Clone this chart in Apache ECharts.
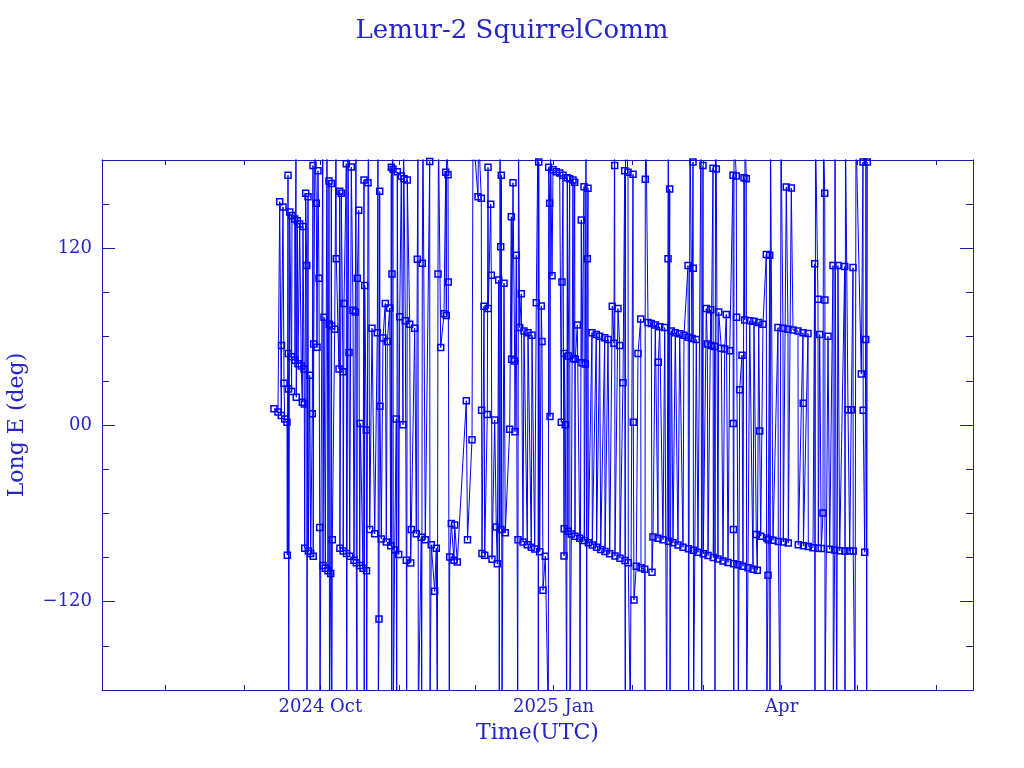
<!DOCTYPE html>
<html><head><meta charset="utf-8">
<script src="https://cdn.jsdelivr.net/npm/echarts@6/dist/echarts.min.js"></script>
<style>html,body{margin:0;padding:0;background:#fff}#c{width:1024px;height:768px}</style>
</head><body><div id="c"></div>
<script>
// days since 2024-08-01 00:00 UTC
const day = [42.72,44.30,44.97,45.60,45.68,46.27,46.67,46.95,47.85,47.97,48.25,48.33,48.45,48.52,48.92,49.55,49.67,49.82,50.89,51.01,51.40,51.52,51.92,52.19,52.86,53.49,53.89,54.16,54.56,54.68,54.84,55.23,55.62,55.74,56.14,56.26,56.81,57.20,57.83,58.11,58.19,58.39,58.90,59.41,59.69,60.08,60.48,60.75,60.87,61.97,62.05,62.45,62.96,63.63,64.03,64.42,64.50,64.62,65.09,65.33,65.45,65.49,65.72,66.67,67.18,67.30,68.37,68.64,68.72,69.27,69.94,70.02,70.34,71.25,71.33,71.40,71.92,72.31,72.59,73.22,73.89,74.28,74.80,75.07,75.19,75.47,75.59,76.14,76.53,76.77,77.84,78.23,78.31,78.51,79.14,79.22,79.29,79.81,80.00,80.48,81.39,82.45,83.48,83.75,83.87,84.15,84.42,84.54,85.05,85.72,86.63,87.03,87.42,88.37,88.76,89.00,89.16,89.27,89.47,89.67,89.79,90.34,90.97,91.13,91.37,91.92,92.31,92.94,93.61,93.81,94.01,94.52,94.92,95.07,95.31,96.26,96.65,96.89,98.23,98.86,99.26,99.53,99.65,100.83,100.99,101.23,101.50,102.41,104.15,104.27,104.78,106.12,106.75,107.15,107.42,107.62,108.49,109.79,110.46,110.70,110.78,111.37,111.48,111.88,112.04,112.67,113.73,114.01,115.04,118.59,119.06,120.84,121.23,123.20,123.40,124.50,124.62,124.78,125.57,125.85,126.87,127.15,127.27,128.21,128.45,128.73,129.79,130.42,130.82,131.37,131.60,131.88,132.16,132.28,132.39,132.67,133.46,133.97,135.71,136.34,136.46,137.01,137.68,137.80,138.31,138.86,138.98,139.18,139.65,140.28,140.96,141.35,142.65,142.93,144.23,144.50,145.57,146.20,146.87,146.99,147.15,147.54,148.17,148.45,148.84,149.75,150.94,151.09,151.49,151.61,151.80,152.40,152.79,154.09,155.43,156.06,156.34,156.73,157.13,157.21,157.29,157.64,158.19,158.43,158.71,158.79,159.38,159.50,160.01,160.68,160.80,161.35,161.47,161.59,162.38,163.32,163.44,163.95,164.23,165.02,165.14,165.53,165.81,166.08,166.32,166.60,166.71,168.17,168.29,169.87,169.99,171.21,171.61,173.19,173.31,174.49,175.16,176.18,176.85,177.05,177.13,177.24,178.43,179.10,179.22,180.40,181.08,181.19,181.31,181.39,182.38,182.50,183.28,184.35,184.47,184.74,185.65,186.32,187.39,187.50,188.97,189.08,189.20,189.48,190.27,191.57,191.85,192.24,193.15,194.21,194.33,194.88,196.18,196.86,197.64,198.16,198.28,198.39,198.83,198.95,199.46,200.13,201.04,202.10,202.77,204.07,204.47,206.05,206.13,206.21,206.29,206.84,207.63,208.02,208.10,208.18,208.26,209.32,209.99,211.18,211.45,211.96,212.08,213.27,213.66,213.94,215.00,215.24,215.91,216.03,216.58,216.70,216.90,217.21,217.88,218.16,219.19,219.86,220.53,221.16,221.83,222.50,223.80,223.88,223.96,224.04,224.12,224.20,225.10,225.22,225.77,225.89,226.44,227.35,227.74,228.14,228.42,228.53,229.05,229.20,229.72,230.39,231.70,232.08,232.99,233.39,233.94,234.33,234.73,235.63,236.94,237.05,237.17,237.61,237.73,238.28,238.40,238.59,239.58,241.55,241.67,242.34,242.74,243.52,243.64,244.83,245.50,245.61,246.80,247.47,249.44,249.56,251.41,251.49,251.57,253.39,253.51,255.36,256.03,256.15,256.35,257.33,257.45,258.00,258.63,259.30,259.50,259.98,260.06,260.09,261.28,261.95,263.25,263.37,263.92,264.04,264.71,265.22,265.89,267.87,267.95,267.98,268.18,269.17,269.84,270.47,271.14,271.22,271.93,272.32,274.42,275.08,275.16,275.76,276.15,276.27,276.55,276.78];
// East longitude (deg); +/-200 = track leaving the frame
const lon = [11.1,8.8,151.7,6.5,54,148.1,28.3,4.1,1.8,-88.4,169.7,48.6,24.5,-200,144.6,46.3,22.8,142.3,140,44,200,18.9,138.8,41.6,136.5,40,15.4,134.8,38,14.2,-83.7,157.5,108.3,-200,155.1,-85.6,33.8,-87.2,7.6,176.3,-89.1,55,200,150.6,52.8,172.7,99.6,-69.7,-200,200,-95.4,73.2,-97.3,200,-99,165.7,68.5,-200,-100.8,164.1,67.3,-200,-77.9,65,200,113,38,158.7,-83.7,157.5,36.2,-85.6,82.6,177.5,-87.2,-200,200,49.3,-89.1,175.2,77.9,-91.9,76.7,200,-93.6,-200,99.6,145.8,-95.4,1.1,-97.3,166.5,-200,94.8,-3.4,-99,-200,164.6,200,-70.9,65.7,-73.9,62.6,200,-200,-131.8,158.7,12.8,-77.4,59.1,82.6,-79.5,56.8,79.5,-82.1,175,-200,102.6,200,173.8,-200,-84.9,4.1,-200,172,-88,73.6,169.2,0.1,200,167.3,70.8,-91.9,-200,166.4,68.5,-93.7,-70.9,65.7,-73.9,112.6,200,-200,-76.2,-200,109.8,200,-77.9,179,-200,-81.4,-113,-83.7,-200,102.6,200,52.6,75.5,171.6,74.4,200,170,97.1,-200,-89.6,-66.9,-91.9,-68,-93,16.5,-78,-10,200,155.1,200,154,10,-87.2,80.7,-88.4,7.1,175,79.1,150,101.7,-91.2,3.4,-69.2,-94.3,98.5,-200,200,121.1,-70.9,169.7,-200,96.2,-73.2,-2.9,141.5,44.6,164.5,43.5,-4.6,115.3,-200,-77.9,200,66.2,89.1,-79.5,63.9,-81.4,62.7,-83,61,-84.2,83,200,-200,178.6,-86.1,80.9,56.8,-112.3,-89.1,-200,175.1,150.6,5.7,200,101.3,173.4,172,171.1,1.8,97.1,169.7,-88.9,-70.5,48.6,0.1,-200,168,-72.2,46.9,167.3,-200,-74,166.4,45.1,164.9,-75.5,44.6,68,-77,-200,139.3,42.2,161.9,-78.5,41.4,200,-200,113,160.8,-80,62.7,-81.5,61.5,-83,60.3,-84.5,59.2,-86,58,-87.5,80.7,55.6,200,176.3,-89,79.1,54,-90.5,28.7,172.7,-92,-200,200,171.6,-93.5,-200,170.4,1.8,-118.9,-96,48.6,72,-97,-98,-200,166.9,200,69.7,69,-100,-76,68,-77,42.7,66.8,-78,66.2,-200,113,200,-79,160.3,-200,63.9,-80,62.7,-81.5,62,-83,61,108.3,59.6,-84,-200,200,58.7,178.6,106.4,-85,-200,58,-86.5,200,-200,176.3,-87.5,79.1,55,-88.7,78.3,54,174.4,-90,53.3,-200,200,173.9,-91,76.7,52.1,-92.3,51.6,75.1,-93.4,50.5,169.7,1.1,-70.9,-94.2,-200,200,169.2,73.2,-95,-200,24,47.4,-96,168,71.3,200,167.3,-200,-97,70.8,-98,70.4,-74.4,-98.6,69.7,-4.1,-75.5,68.5,115.8,-76.7,-200,-102,-77.9,115.3,-200,200,-78.3,66.2,-79.1,-200,200,65.7,-79.5,161.7,65,-80.2,161,64.5,63.9,-81.4,62.7,14.7,-82.1,62.2,-82.6,-83.3,109.5,-200,200,85.4,-83.7,61.5,-83.9,-59.8,200,157.5,84.9,-200,60.3,-84.4,108.3,-200,-84.9,200,-200,108.3,-85.4,107.6,-85.6,-200,200,10.4,-85.6,10.3,106.9,-85.6,-200,200,34.6,178.6,10,-86.5,58,200,-200,178.6];

const monthTicks = ['2024-08-01','2024-09-01','2024-10-01','2024-11-01','2024-12-01','2025-01-01','2025-02-01','2025-03-01','2025-04-01','2025-05-01','2025-06-01'];
const labelDates = ['2024-10-01','2025-01-01','2025-04-01'];
const tickLabels = ['2024 Oct','2025 Jan','Apr'];
const yMajor = [-120, 0, 120];
const yLabels = ['\u2212120', '00', '120'];

const DAY = 86400000;
const base = Date.UTC(2024, 7, 1);
const ts = s => Date.parse(s + 'T00:00:00Z');
const xMin = base - 25.13 * DAY, xMax = base + 318.48 * DAY;
const data = day.map((d, i) => [base + d * DAY, lon[i]]);

const BLUE = '#0000ff', AX = '#1c1ca8', TXT = '#2424c8';
const FONT = 'DejaVu Serif';
const monthVals = monthTicks.map(ts), labVals = labelDates.map(ts);

function xAx(pos, showLab) {
  return {
    type: 'value', position: pos, min: xMin, max: xMax, gridIndex: 0,
    splitLine: {show: false},
    axisLine: {show: true, onZero: false, lineStyle: {color: AX, width: 1}},
    axisTick: {show: true, inside: true, length: 5, customValues: monthVals, lineStyle: {color: AX}},
    axisLabel: {show: showLab, customValues: labVals, margin: 8, color: TXT, fontFamily: FONT, fontSize: 18,
      formatter: v => { const i = labVals.indexOf(v); return i >= 0 ? tickLabels[i] : ''; }},
    name: showLab ? 'Time(UTC)' : '', nameLocation: 'middle', nameGap: 32,
    nameTextStyle: {color: TXT, fontFamily: FONT, fontSize: 22}
  };
}
function yAx(pos, major, showLab) {
  return {
    type: 'value', position: pos, min: -180, max: 180, interval: 30, gridIndex: 0,
    splitLine: {show: false},
    axisLine: {show: true, onZero: false, lineStyle: {color: AX, width: 1}},
    axisTick: major ? {show: true, inside: true, length: 13, customValues: yMajor, lineStyle: {color: AX}}
                    : {show: true, inside: true, length: 7, lineStyle: {color: AX}},
    axisLabel: {show: showLab, customValues: yMajor, margin: 10, color: TXT, fontFamily: FONT, fontSize: 18,
      formatter: v => { const i = yMajor.indexOf(v); return i >= 0 ? yLabels[i] : ''; }},
    name: showLab ? 'Long E (deg)' : '', nameLocation: 'middle', nameGap: 74, nameRotate: 90,
    nameTextStyle: {color: TXT, fontFamily: FONT, fontSize: 22}
  };
}

const chart = echarts.init(document.getElementById('c'), null, {renderer: 'canvas'});
chart.setOption({
  animation: false,
  backgroundColor: '#fff',
  title: {text: 'Lemur-2 SquirrelComm', left: 'center', top: 13,
    textStyle: {color: TXT, fontFamily: FONT, fontSize: 26, fontWeight: 'normal'}},
  grid: {left: 102, right: 51, top: 160, bottom: 78, containLabel: false, outerBoundsMode: 'none'},
  xAxis: [xAx('bottom', true), xAx('top', false)],
  yAxis: [yAx('left', true, true), yAx('left', false, false), yAx('right', true, false), yAx('right', false, false)],
  series: [{
    type: 'line', data: data, xAxisIndex: 0, yAxisIndex: 0, clip: true,
    showSymbol: true, showAllSymbol: true, symbol: 'rect', symbolSize: 6,
    itemStyle: {color: 'rgba(255,255,255,0)', borderColor: BLUE, borderWidth: 1.5},
    lineStyle: {color: BLUE, width: 1},
    emphasis: {disabled: true}
  }]
});
</script></body></html>
